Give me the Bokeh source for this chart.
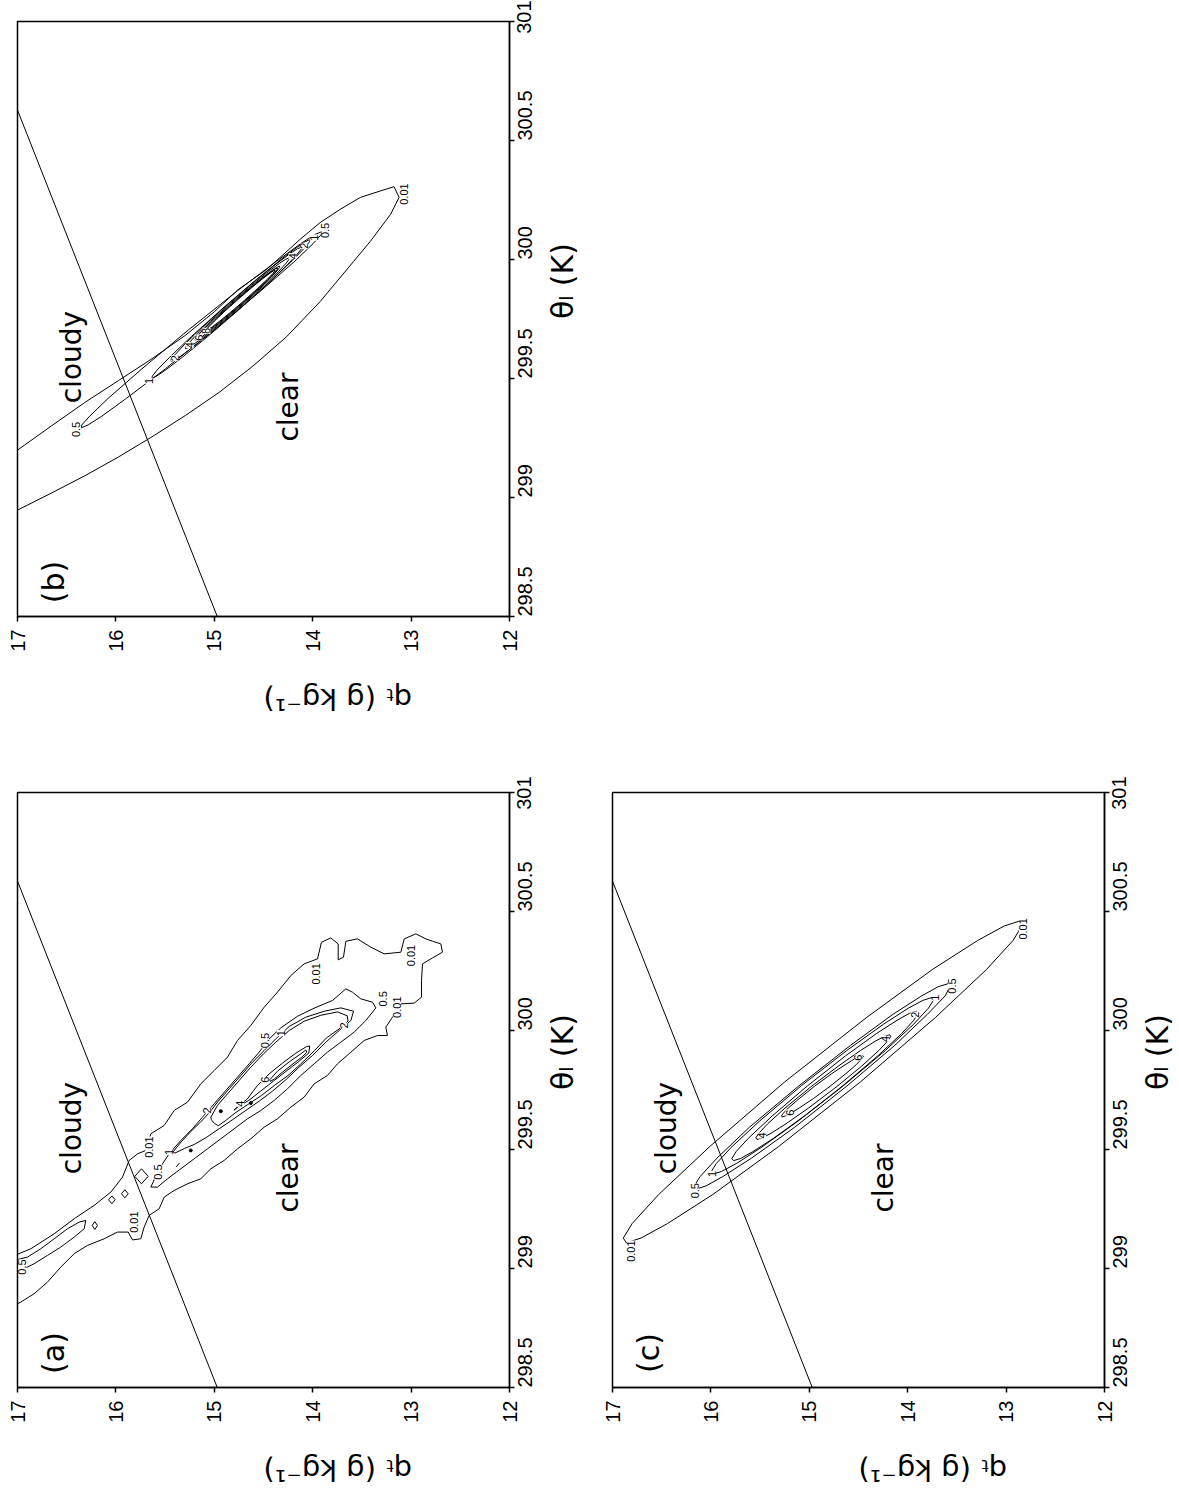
import math
from bokeh.plotting import figure
from bokeh.models import ColumnDataSource, LabelSet, Range1d, FixedTicker, CustomJSTickFormatter
from bokeh.layouts import column, row
from bokeh.embed import file_html
from bokeh.resources import INLINE
from bokeh.core.properties import value

# ---------------- axes / common ----------------
Q_TICKS = [12, 13, 14, 15, 16, 17]
THETA_TICKS = [298.5, 299.0, 299.5, 300.0, 300.5, 301.0]
Q_LABEL = "qₜ (g kg⁻¹)"
THETA_LABEL = "θₗ (K)"
SAT_THETA = [298.5, 300.68]          # saturation line
SAT_Q = [14.97, 17.05]
REGION_TEXT = ["cloudy", "clear"]
REGION_THETA = [299.59, 299.38]
REGION_Q = [16.45, 14.25]
TAG_THETA = 298.645
TAG_Q = 16.635

# ---------------- panel (a): observed PDF ----------------
A_OUTER_T = [299.048, 299.083, 299.146, 299.209, 299.265, 299.321, 299.384, 299.454, 299.482, 299.496,
             299.566, 299.601, 299.664, 299.699, 299.776, 299.832, 299.888, 299.958, 300.021, 300.098,
             300.161, 300.231, 300.280, 300.301, 300.371, 300.389, 300.364, 300.297, 300.308, 300.375,
             300.385, 300.350, 300.322, 300.329, 300.385, 300.406, 300.385, 300.375, 300.364, 300.329,
             300.305, 300.280, 300.210, 300.140, 300.115, 300.112, 300.077, 300.014, 299.979, 299.979,
             299.958, 299.909, 299.860, 299.811, 299.776, 299.720, 299.678, 299.629, 299.594, 299.545,
             299.503, 299.454, 299.419, 299.377, 299.356, 299.328, 299.300, 299.251, 299.223, 299.174,
             299.125, 299.120, 299.153, 299.153, 299.125, 299.097, 299.062, 299.006, 298.943, 298.894,
             298.859, 298.838]
A_OUTER_Q = [17.068, 16.864, 16.627, 16.424, 16.221, 16.051, 15.933, 15.865, 15.780, 15.696,
             15.645, 15.509, 15.408, 15.272, 15.137, 15.001, 14.866, 14.764, 14.629, 14.493,
             14.358, 14.222, 14.087, 13.951, 13.911, 13.816, 13.741, 13.741, 13.687, 13.663,
             13.545, 13.409, 13.274, 13.104, 13.070, 12.952, 12.850, 12.782, 12.698, 12.681,
             12.782, 12.884, 12.894, 12.894, 12.969, 13.104, 13.155, 13.257, 13.240, 13.341,
             13.477, 13.612, 13.748, 13.850, 13.985, 14.087, 14.222, 14.358, 14.493, 14.629,
             14.764, 14.900, 15.035, 15.137, 15.272, 15.408, 15.509, 15.560, 15.662, 15.713,
             15.747, 15.831, 15.875, 15.984, 16.119, 16.289, 16.424, 16.560, 16.695, 16.831,
             16.966, 17.068]
A_FINGER_T = [299.034, 299.048, 299.083, 299.125, 299.167, 299.195, 299.202, 299.167, 299.132, 299.090,
              299.055, 299.020, 298.992, 298.978]
A_FINGER_Q = [17.034, 16.898, 16.763, 16.627, 16.492, 16.373, 16.306, 16.322, 16.424, 16.560,
              16.695, 16.831, 16.966, 17.034]
A_05_T = [299.342, 299.419, 299.482, 299.538, 299.587, 299.636, 299.692, 299.748, 299.804, 299.860,
          299.909, 299.958, 300.011, 300.060, 300.094, 300.126, 300.175, 300.161, 300.133, 300.119,
          300.095, 300.042, 299.993, 299.951, 299.909, 299.860, 299.811, 299.755, 299.706, 299.664,
          299.629, 299.587, 299.545, 299.503, 299.461, 299.419, 299.377, 299.342]
A_05_Q = [15.645, 15.560, 15.459, 15.340, 15.222, 15.120, 15.001, 14.883, 14.764, 14.646,
          14.544, 14.459, 14.324, 14.154, 13.985, 13.799, 13.663, 13.596, 13.511, 13.392,
          13.358, 13.460, 13.579, 13.714, 13.850, 13.985, 14.121, 14.256, 14.392, 14.527,
          14.663, 14.798, 14.934, 15.069, 15.205, 15.340, 15.476, 15.577]
A_1_T = [299.490, 299.535, 299.575, 299.615, 299.655, 299.699, 299.755, 299.811, 299.867, 299.916,
         299.965, 300.017, 300.056, 300.081, 300.095, 300.081, 300.042, 300.000, 299.951, 299.895,
         299.846, 299.793, 299.745, 299.703, 299.664, 299.625, 299.587, 299.552, 299.521, 299.505,
         299.485]
A_1_Q = [15.420, 15.330, 15.240, 15.140, 15.050, 14.968, 14.849, 14.730, 14.612, 14.493,
         14.375, 14.239, 14.070, 13.883, 13.714, 13.585, 13.612, 13.731, 13.867, 14.002,
         14.138, 14.273, 14.409, 14.544, 14.680, 14.815, 14.951, 15.076, 15.205, 15.300,
         15.400]
A_2_T = [299.636, 299.685, 299.734, 299.790, 299.846, 299.902, 299.951, 300.000, 300.039, 300.064,
         300.078, 300.062, 300.040, 300.010, 299.969, 299.916, 299.860, 299.811, 299.769, 299.727,
         299.689, 299.653, 299.620, 299.600, 299.610, 299.625]
A_2_Q = [15.035, 14.968, 14.866, 14.747, 14.629, 14.500, 14.375, 14.239, 14.087, 13.917,
         13.748, 13.650, 13.640, 13.720, 13.860, 13.980, 14.120, 14.250, 14.390, 14.520,
         14.660, 14.790, 14.890, 14.960, 15.000, 15.030]
A_4_T = [299.665, 299.713, 299.769, 299.818, 299.863, 299.905, 299.933, 299.935, 299.905, 299.867,
         299.829, 299.787, 299.745, 299.706, 299.680]
A_4_Q = [14.800, 14.663, 14.561, 14.442, 14.307, 14.171, 14.060, 14.030, 14.040, 14.150,
         14.270, 14.400, 14.530, 14.650, 14.760]
A_6_T = [299.793, 299.829, 299.868, 299.902, 299.918, 299.908, 299.888, 299.857, 299.824, 299.796, 299.786]
A_6_Q = [14.436, 14.358, 14.239, 14.121, 14.070, 14.060, 14.110, 14.210, 14.310, 14.390, 14.430]
A_ISLE_T = [[299.289, 299.305, 299.289, 299.272],
            [299.314, 299.331, 299.314, 299.297],
            [299.181, 299.197, 299.181, 299.164],
            [299.387, 299.419, 299.387, 299.356]]
A_ISLE_Q = [[16.075, 16.041, 16.007, 16.041],
            [15.943, 15.909, 15.875, 15.909],
            [16.241, 16.214, 16.187, 16.214],
            [15.808, 15.740, 15.672, 15.740]]
A_DASH_T = [299.426, 299.443]
A_DASH_Q = [15.388, 15.354]
A_DOT_T = [299.496, 299.661, 299.695]
A_DOT_Q = [15.239, 14.934, 14.629]
A_LAB_T = [299.006, 299.195, 299.510, 299.405, 299.490, 299.664, 299.692, 299.793, 299.958, 299.989,
           300.021, 300.238, 300.315, 300.133, 300.098]
A_LAB_Q = [16.950, 15.814, 15.662, 15.570, 15.460, 15.069, 14.737, 14.486, 14.486, 14.324,
           13.680, 13.968, 13.003, 13.284, 13.145]
A_LAB_TXT = ["0.5", "0.01", "0.01", "0.5", "1", "2", "4", "6", "0.5", "1",
             "2", "0.01", "0.01", "0.5", "0.01"]

# ---------------- panel (b) ----------------
B_OUTER_T = [299.185, 299.199, 299.300, 299.399, 299.491, 299.583, 299.682, 299.780, 299.872, 299.957,
             300.020, 300.084, 300.155, 300.211, 300.261, 300.286, 300.306, 300.261, 300.190, 300.077,
             299.992, 299.823, 299.675, 299.552, 299.442, 299.345, 299.255, 299.170, 299.091, 299.018,
             298.947, 298.935]
B_OUTER_Q = [17.060, 17.000, 16.658, 16.317, 15.975, 15.633, 15.292, 15.001, 14.762, 14.472,
             14.301, 14.130, 13.925, 13.720, 13.515, 13.327, 13.174, 13.122, 13.208, 13.413,
             13.584, 13.925, 14.267, 14.608, 14.950, 15.292, 15.633, 15.975, 16.317, 16.658,
             17.000, 17.060]
# band contours: theta stations, q on the moist (HI) and dry (LO) edge
B05_T = [299.293, 299.305, 299.342, 299.417, 299.540, 299.705, 299.870, 299.993, 300.068, 300.105, 300.117]
B05_HI = [16.351, 16.346, 16.266, 16.078, 15.737, 15.260, 14.760, 14.367, 14.117, 13.977, 13.908]
B05_LO = [16.351, 16.282, 16.142, 15.892, 15.499, 15.000, 14.522, 14.181, 13.993, 13.913, 13.908]
B1_T = [299.501, 299.510, 299.536, 299.588, 299.676, 299.7925, 299.909, 299.997, 300.049, 300.075, 300.084]
B1_HI = [15.633, 15.630, 15.580, 15.457, 15.234, 14.921, 14.593, 14.332, 14.167, 14.075, 14.028]
B1_LO = [15.633, 15.586, 15.494, 15.329, 15.068, 14.741, 14.427, 14.204, 14.081, 14.031, 14.028]
B2_T = [299.572, 299.579, 299.601, 299.644, 299.716, 299.812, 299.908, 299.980, 300.023, 300.045, 300.052]
B2_HI = [15.437, 15.439, 15.397, 15.300, 15.119, 14.862, 14.590, 14.375, 14.236, 14.156, 14.116]
B2_LO = [15.437, 15.397, 15.317, 15.178, 14.963, 14.692, 14.434, 14.253, 14.156, 14.114, 14.116]
B4_T = [299.625, 299.631, 299.648, 299.682, 299.740, 299.816, 299.892, 299.950, 299.984, 300.001, 300.007]
B4_HI = [15.292, 15.292, 15.261, 15.185, 15.039, 14.836, 14.621, 14.447, 14.337, 14.274, 14.240]
B4_LO = [15.292, 15.258, 15.195, 15.085, 14.911, 14.696, 14.493, 14.347, 14.271, 14.240, 14.240]
B6_T = [299.660, 299.665, 299.679, 299.707, 299.754, 299.816, 299.878, 299.925, 299.953, 299.967, 299.972]
B6_HI = [15.195, 15.195, 15.171, 15.107, 14.989, 14.824, 14.648, 14.507, 14.416, 14.364, 14.336]
B6_LO = [15.195, 15.167, 15.115, 15.025, 14.883, 14.708, 14.542, 14.425, 14.360, 14.336, 14.336]
B8_T = [299.689, 299.693, 299.705, 299.730, 299.771, 299.8265, 299.882, 299.923, 299.947, 299.960, 299.964]
B8_HI = [15.115, 15.116, 15.094, 15.036, 14.933, 14.784, 14.628, 14.505, 14.428, 14.381, 14.358]
B8_LO = [15.115, 15.092, 15.048, 14.968, 14.845, 14.688, 14.540, 14.437, 14.382, 14.357, 14.358]
B10_T = [299.703, 299.707, 299.718, 299.741, 299.779, 299.829, 299.879, 299.917, 299.940, 299.951, 299.955]
B10_HI = [15.077, 15.075, 15.054, 14.999, 14.903, 14.768, 14.628, 14.515, 14.443, 14.404, 14.383]
B10_LO = [15.077, 15.057, 15.018, 14.945, 14.833, 14.692, 14.558, 14.461, 14.407, 14.386, 14.383]
B_LAB_T = [300.275, 299.286, 300.122, 299.490, 300.092, 299.585, 300.058, 299.640, 300.014, 299.672, 299.700]
B_LAB_Q = [13.071, 16.402, 13.870, 15.660, 13.990, 15.400, 14.085, 15.250, 14.205, 15.160, 15.080]
B_LAB_TXT = ["0.01", "0.5", "0.5", "1", "1", "2", "2", "4", "4", "6", "8"]

# ---------------- panel (c) ----------------
C001_T = [299.108, 299.128, 299.189, 299.311, 299.513, 299.784, 300.054, 300.256, 300.378, 300.439, 300.459]
C001_HI = [16.86, 16.89, 16.80, 16.53, 16.01, 15.25, 14.42, 13.75, 13.29, 13.02, 12.87]
C001_LO = [16.86, 16.71, 16.44, 15.98, 15.31, 14.48, 13.72, 13.20, 12.93, 12.84, 12.87]
C05_T = [299.334, 299.347, 299.386, 299.463, 299.593, 299.766, 299.938, 300.068, 300.145, 300.184, 300.197]
C05_HI = [16.147, 16.17, 16.11, 15.94, 15.61, 15.11, 14.58, 14.15, 13.86, 13.69, 13.587]
C05_LO = [16.147, 16.05, 15.88, 15.59, 15.15, 14.62, 14.13, 13.80, 13.62, 13.57, 13.587]
C1_T = [299.397, 299.408, 299.441, 299.508, 299.619, 299.768, 299.916, 300.027, 300.094, 300.127, 300.138]
C1_HI = [15.976, 15.995, 15.945, 15.796, 15.507, 15.081, 14.619, 14.244, 13.993, 13.843, 13.758]
C1_LO = [15.976, 15.891, 15.741, 15.490, 15.115, 14.653, 14.227, 13.938, 13.789, 13.739, 13.758]
C2_T = [299.453, 299.462, 299.491, 299.547, 299.641, 299.767, 299.893, 299.987, 300.043, 300.072, 300.081]
C2_HI = [15.771, 15.787, 15.744, 15.620, 15.377, 15.020, 14.633, 14.318, 14.108, 13.983, 13.911]
C2_LO = [15.771, 15.700, 15.574, 15.364, 15.049, 14.662, 14.305, 14.062, 13.938, 13.896, 13.911]
C4_T = [299.542, 299.549, 299.568, 299.608, 299.674, 299.762, 299.850, 299.916, 299.956, 299.975, 299.982]
C4_HI = [15.532, 15.544, 15.513, 15.423, 15.247, 14.988, 14.707, 14.479, 14.327, 14.236, 14.184]
C4_LO = [15.532, 15.480, 15.389, 15.237, 15.009, 14.728, 14.469, 14.293, 14.203, 14.172, 14.184]
C6_T = [299.637, 299.641, 299.652, 299.676, 299.714, 299.766, 299.818, 299.856, 299.880, 299.891, 299.895]
C6_HI = [15.276, 15.283, 15.265, 15.209, 15.102, 14.946, 14.775, 14.636, 14.544, 14.488, 14.457]
C6_LO = [15.276, 15.245, 15.189, 15.097, 14.958, 14.788, 14.631, 14.524, 14.468, 14.450, 14.457]
C_LAB_T = [299.073, 300.427, 299.327, 300.187, 299.397, 300.138, 300.067, 299.559, 299.965, 299.655, 299.886]
C_LAB_Q = [16.81, 12.83, 16.16, 13.55, 15.99, 13.72, 13.93, 15.48, 14.23, 15.20, 14.50]
C_LAB_TXT = ["0.01", "0.01", "0.5", "0.5", "1", "1", "2", "4", "4", "6", "6"]


def ring(t, q):
    return list(t) + [t[0]], list(q) + [q[0]]


def band(t, hi, lo):
    tt = list(t) + list(t)[::-1]
    qq = list(hi) + list(lo)[::-1]
    return tt + [tt[0]], qq + [qq[0]]


def panel(tag, shapes, lab_t, lab_q, lab_txt, lb, rb, tb, bb, dots=None, open_lines=None):
    p = figure(frame_width=492, frame_height=595,
               x_range=Range1d(17, 12), y_range=Range1d(298.5, 301),
               y_axis_location="right", output_backend="svg", toolbar_location=None,
               min_border_left=lb, min_border_right=rb, min_border_top=tb, min_border_bottom=bb)
    p.xgrid.visible = False
    p.ygrid.visible = False
    p.background_fill_color = "white"
    p.border_fill_color = "white"
    p.outline_line_color = "black"
    p.outline_line_width = 1.5
    p.outline_line_alpha = 1.0

    xa = p.xaxis[0]
    ya = p.yaxis[0]
    xa.ticker = FixedTicker(ticks=Q_TICKS)
    ya.ticker = FixedTicker(ticks=THETA_TICKS)
    for ax in (xa, ya):
        ax.formatter = CustomJSTickFormatter(code="return String(Math.round(tick*10)/10);")
        ax.axis_line_color = "black"
        ax.axis_line_width = 1.5
        ax.major_tick_line_color = "black"
        ax.major_tick_line_width = 1.5
        ax.major_tick_in = 0
        ax.major_tick_out = 5
        ax.minor_tick_line_color = None
        ax.major_label_text_font = "Liberation Sans"
        ax.major_label_text_font_size = "20px"
        ax.major_label_text_color = "black"
        ax.major_label_orientation = math.pi / 2
        ax.axis_label_text_font = "DejaVu Sans"
        ax.axis_label_text_font_style = "normal"
        ax.axis_label_text_color = "black"
    xa.major_label_standoff = 8
    ya.major_label_standoff = 10
    xa.axis_label_text_font_size = "29px"
    ya.axis_label_text_font_size = "30px"
    xa.axis_label = Q_LABEL
    ya.axis_label = THETA_LABEL
    xa.axis_label_standoff = 44
    ya.axis_label_standoff = 21
    xa.axis_label_orientation = math.pi
    ya.axis_label_orientation = math.pi / 2

    xs, ys = [], []
    for t, q in shapes:
        ys.append(t)
        xs.append(q)
    p.multi_line(xs=xs, ys=ys, line_color="black", line_width=1)
    if open_lines:
        p.multi_line(xs=[o[1] for o in open_lines], ys=[o[0] for o in open_lines],
                     line_color="black", line_width=1)
    if dots:
        p.scatter(x=dots[1], y=dots[0], marker="circle", size=3, color="black")
    p.line(x=SAT_Q, y=SAT_THETA, line_color="black", line_width=1)

    src_r = ColumnDataSource(dict(q=REGION_Q, t=REGION_THETA, s=REGION_TEXT))
    p.text(x="q", y="t", text="s", source=src_r, angle=math.pi / 2,
           text_align="center", text_baseline="middle",
           text_font=value("DejaVu Sans"), text_font_size="28px", text_color="black")
    p.text(x=[TAG_Q], y=[TAG_THETA], text=[tag], angle=math.pi / 2,
           text_align="center", text_baseline="middle",
           text_font=value("DejaVu Sans"), text_font_size="30px", text_color="black")

    src_l = ColumnDataSource(dict(q=lab_q, t=lab_t, s=lab_txt))
    p.add_layout(LabelSet(x="q", y="t", text="s", source=src_l, angle=math.pi / 2,
                          text_align="center", text_baseline="middle",
                          text_font=value("Liberation Sans"), text_font_size="11px",
                          text_color="black", background_fill_color="white"))
    return p


shapes_a = [ring(A_OUTER_T, A_OUTER_Q), ring(A_FINGER_T, A_FINGER_Q), ring(A_05_T, A_05_Q),
            ring(A_1_T, A_1_Q), ring(A_2_T, A_2_Q), ring(A_4_T, A_4_Q), ring(A_6_T, A_6_Q)]
shapes_a += [ring(t, q) for t, q in zip(A_ISLE_T, A_ISLE_Q)]
shapes_b = [ring(B_OUTER_T, B_OUTER_Q), band(B05_T, B05_HI, B05_LO), band(B1_T, B1_HI, B1_LO),
            band(B2_T, B2_HI, B2_LO), band(B4_T, B4_HI, B4_LO), band(B6_T, B6_HI, B6_LO),
            band(B8_T, B8_HI, B8_LO), band(B10_T, B10_HI, B10_LO)]
shapes_c = [band(C001_T, C001_HI, C001_LO), band(C05_T, C05_HI, C05_LO), band(C1_T, C1_HI, C1_LO),
            band(C2_T, C2_HI, C2_LO), band(C4_T, C4_HI, C4_LO), band(C6_T, C6_HI, C6_LO)]

fig_b = panel("(b)", shapes_b, B_LAB_T, B_LAB_Q, B_LAB_TXT, lb=17, rb=90, tb=21, bb=160)
fig_a = panel("(a)", shapes_a, A_LAB_T, A_LAB_Q, A_LAB_TXT, lb=17, rb=90, tb=16, bb=60,
              dots=(A_DOT_T, A_DOT_Q), open_lines=[(A_DASH_T, A_DASH_Q)])
fig_c = panel("(c)", shapes_c, C_LAB_T, C_LAB_Q, C_LAB_TXT, lb=12, rb=30, tb=16, bb=60)

layout = column(row(fig_b), row(fig_a, fig_c))
open("out.html", "w").write(file_html(layout, INLINE, "qt-thetal PDFs"))
